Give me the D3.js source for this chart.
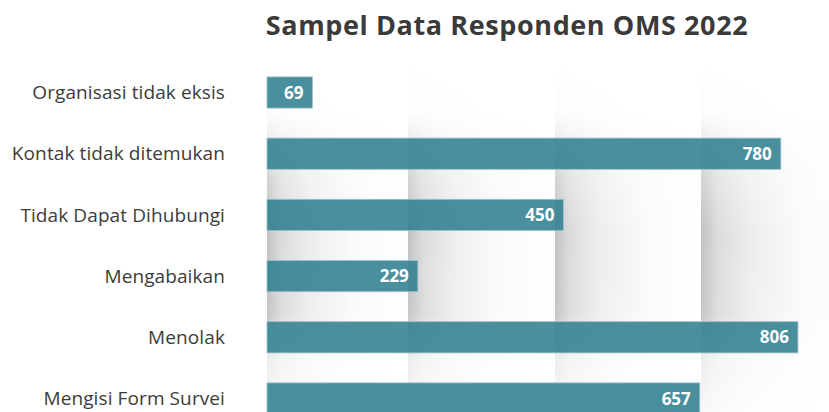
<!DOCTYPE html>
<html>
<head>
<meta charset="utf-8">
<script src="https://cdn.jsdelivr.net/npm/d3@7"></script>
<style>
  html, body { margin: 0; padding: 0; background: #ffffff; overflow: hidden; }
  svg { display: block; }
</style>
</head>
<body>
<svg id="chart" width="829" height="412"></svg>
<script>
const title = "Sampel Data Responden OMS 2022";
const categories = [
  "Organisasi tidak eksis",
  "Kontak tidak ditemukan",
  "Tidak Dapat Dihubungi",
  "Mengabaikan",
  "Menolak",
  "Mengisi Form Survei"
];
const values = [69, 780, 450, 229, 806, 657];

const W = 829, H = 412;
const svg = d3.select("#chart");
const defs = svg.append("defs");

const x = d3.scaleLinear().domain([0, 800]).range([267, 794]);
const y = d3.scaleBand().domain(categories).range([61.9, 429.1])
  .paddingInner(0.49).paddingOuter(0.245);

// Background decorative panels (folded-paper shading)
const hg = defs.append("linearGradient").attr("id", "hshade")
  .attr("x1", 0).attr("x2", 1).attr("y1", 0).attr("y2", 0);
[[0, 0.24], [0.1, 0.14], [0.3, 0.07], [0.6, 0.02], [1, 0]]
  .forEach(([o, v]) => hg.append("stop").attr("offset", o)
    .attr("stop-color", "#000").attr("stop-opacity", v));

const vg = defs.append("linearGradient").attr("id", "vfade")
  .attr("gradientUnits", "userSpaceOnUse")
  .attr("x1", 0).attr("x2", 0).attr("y1", 60).attr("y2", 412);
[[0, 0], [0.15, 0.05], [0.33, 0.7], [0.48, 1], [0.72, 0.95], [0.85, 0.3], [1, 0.12]]
  .forEach(([o, v]) => vg.append("stop").attr("offset", o)
    .attr("stop-color", "#fff").attr("stop-opacity", v));
const mask = defs.append("mask").attr("id", "vmask")
  .attr("maskUnits", "userSpaceOnUse")
  .attr("x", 0).attr("y", 0).attr("width", W).attr("height", H);
mask.append("rect").attr("x", 0).attr("y", 60).attr("width", W).attr("height", H - 60)
  .attr("fill", "url(#vfade)");

const panelEdges = [267, 408, 555, 701, 860];
const bg = svg.append("g").attr("mask", "url(#vmask)");
bg.selectAll("rect").data(panelEdges.slice(0, -1)).join("rect")
  .attr("x", d => d)
  .attr("y", 60)
  .attr("width", (d, i) => panelEdges[i + 1] - d)
  .attr("height", H - 60)
  .attr("fill", "url(#hshade)");

// Title
svg.append("text")
  .attr("x", 507).attr("y", 35)
  .attr("text-anchor", "middle")
  .attr("font-family", "'Open Sans', sans-serif")
  .attr("font-weight", 700)
  .attr("font-size", 27)
  .attr("letter-spacing", 0.6)
  .attr("fill", "#3a3a3a")
  .text(title);

// Bars
const rows = categories.map((c, i) => ({ c, v: values[i] }));
svg.append("g").selectAll("rect").data(rows).join("rect")
  .attr("x", x(0))
  .attr("y", d => y(d.c))
  .attr("width", d => x(d.v) - x(0))
  .attr("height", y.bandwidth())
  .attr("fill", "#30808f")
  .attr("fill-opacity", 0.88)
  .attr("stroke", "#9cc3cc")
  .attr("stroke-width", 0.8);

// Value labels
svg.append("g").selectAll("text").data(rows).join("text")
  .attr("x", d => x(d.v) - 9)
  .attr("y", d => y(d.c) + y.bandwidth() / 2 + 6)
  .attr("text-anchor", "end")
  .attr("font-family", "'Open Sans', sans-serif")
  .attr("font-weight", 700)
  .attr("font-size", 17)
  .attr("fill", "#ffffff")
  .text(d => d.v);

// Category labels (axis)
const axis = d3.axisLeft(y).tickSize(0).tickPadding(0);
const ag = svg.append("g").attr("transform", "translate(225,0)").call(axis);
ag.select(".domain").remove();
ag.selectAll("text")
  .attr("font-family", "'Open Sans', sans-serif")
  .attr("font-size", 19)
  .attr("letter-spacing", 0.1)
  .attr("fill", "#3c3c3c")
  .attr("dy", "0.35em");
</script>
</body>
</html>
